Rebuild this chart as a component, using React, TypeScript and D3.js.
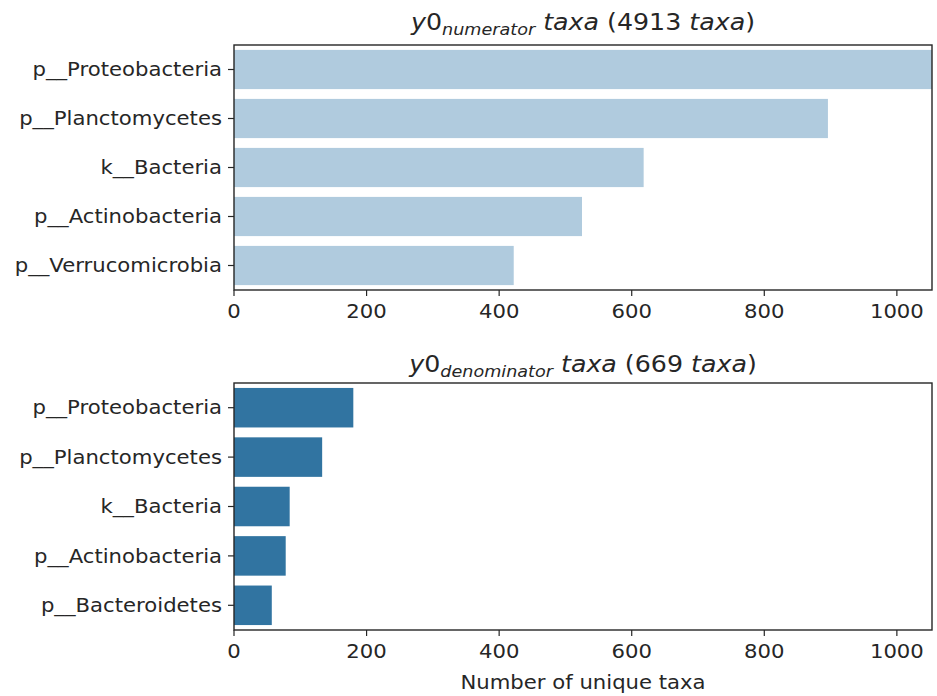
import React from "react";
import * as d3 from "d3";

// Top taxa counts for the numerator and denominator groups
const numeratorTaxa = ["p__Proteobacteria", "p__Planctomycetes", "k__Bacteria", "p__Actinobacteria", "p__Verrucomicrobia"];
const numeratorCounts = [1580, 896, 618, 525, 422];
const denominatorTaxa = ["p__Proteobacteria", "p__Planctomycetes", "k__Bacteria", "p__Actinobacteria", "p__Bacteroidetes"];
const denominatorCounts = [180, 133, 84, 78, 57];
const xTicks = [0, 200, 400, 600, 800, 1000];
const xMax = 1053;

const W = 937;
const H = 696;
const left = 234;
const right = 932;
const FONT = "DejaVu Sans, sans-serif";
const SX = 1.06;
const FS = 20;
const INK = "#262626";

type PanelProps = {
  taxa: string[];
  counts: number[];
  top: number;
  bottom: number;
  color: string;
  label: string;
  total: number;
  titleY: number;
};

function Panel({ taxa, counts, top, bottom, color, label, total, titleY }: PanelProps) {
  const x = d3.scaleLinear().domain([0, xMax]).range([left, right]);
  const y = d3.scaleBand<string>().domain(taxa).range([top, bottom]).paddingInner(0.2).paddingOuter(0.1);
  const clipId = `clip-${label}`;
  const cx = (left + right) / 2;
  return (
    <g>
      <defs>
        <clipPath id={clipId}>
          <rect x={left} y={top} width={right - left} height={bottom - top} />
        </clipPath>
      </defs>
      <g clipPath={`url(#${clipId})`}>
        {taxa.map((t, i) => (
          <rect key={t} x={x(0)} y={y(t)} width={x(counts[i]) - x(0)} height={y.bandwidth()} fill={color} />
        ))}
      </g>
      <rect x={left} y={top} width={right - left} height={bottom - top} fill="none" stroke={INK} strokeWidth={1.4} />
      {taxa.map((t) => {
        const cy = (y(t) as number) + y.bandwidth() / 2;
        return (
          <g key={t}>
            <line x1={left - 6} x2={left} y1={cy} y2={cy} stroke={INK} strokeWidth={1.2} />
            <text transform={`translate(${left - 12},${cy}) scale(${SX},1)`} textAnchor="end" dominantBaseline="central" fontSize={FS} fontFamily={FONT} fill={INK}>
              {t}
            </text>
          </g>
        );
      })}
      {xTicks.map((v) => (
        <g key={v}>
          <line x1={x(v)} x2={x(v)} y1={bottom} y2={bottom + 6} stroke={INK} strokeWidth={1.2} />
          <text transform={`translate(${x(v)},${bottom + 28}) scale(${SX},1)`} textAnchor="middle" fontSize={FS} fontFamily={FONT} fill={INK}>
            {v}
          </text>
        </g>
      ))}
      <text transform={`translate(${cx},${titleY}) scale(1.1,1)`} textAnchor="middle" fontSize={23} fontFamily={FONT} fill={INK}>
        <tspan fontStyle="italic">y</tspan>
        <tspan>0</tspan>
        <tspan fontStyle="italic" fontSize={16} dy={5}>{label}</tspan>
        <tspan fontStyle="italic" dy={-5}> taxa</tspan>
        <tspan> ({total} </tspan>
        <tspan fontStyle="italic">taxa</tspan>
        <tspan>)</tspan>
      </text>
    </g>
  );
}

export default function App() {
  return (
    <svg width={W} height={H} style={{ position: "absolute", left: 0, top: 0, background: "#fff" }}>
      <rect width={W} height={H} fill="#fff" />
      <Panel taxa={numeratorTaxa} counts={numeratorCounts} top={45} bottom={290} color="#b0cbde" label="numerator" total={4913} titleY={30} />
      <Panel taxa={denominatorTaxa} counts={denominatorCounts} top={383} bottom={630} color="#3174a1" label="denominator" total={669} titleY={372} />
      <text transform={`translate(${(left + right) / 2},${689}) scale(${SX},1)`} textAnchor="middle" fontSize={FS} fontFamily={FONT} fill={INK}>
        Number of unique taxa
      </text>
    </svg>
  );
}
